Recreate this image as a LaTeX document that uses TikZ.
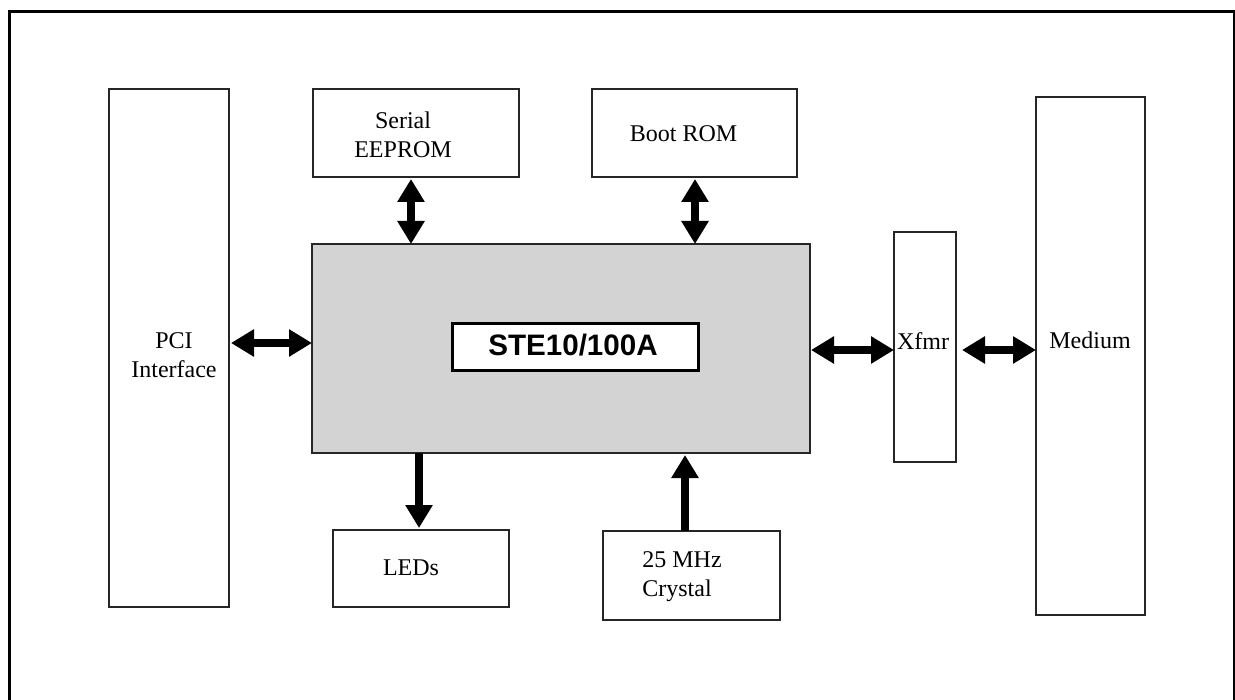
\documentclass[tikz,border=0pt]{standalone}
\usepackage{fontspec}
\setmainfont{Liberation Serif}
\newfontfamily\labelsans{Liberation Sans}
\usetikzlibrary{arrows.meta}
\definecolor{chipgray}{HTML}{D3D3D3}
\tikzset{
  box/.style={draw=black!85, line width=0.8pt, inner sep=0pt, outer sep=0pt, anchor=center},
  txt/.style={inner sep=0pt, align=center, font=\fontsize{12}{14.5}\selectfont},
  biarrow/.style={line width=3.6pt, {Triangle[width=13pt,length=11.5pt]}-{Triangle[width=13pt,length=11.5pt]}},
  onearrow/.style={line width=3.6pt, -{Triangle[width=13pt,length=11.5pt]}},
}
\begin{document}
\begin{tikzpicture}[x=0.5pt, y=-0.5pt]
\useasboundingbox (0,0) rectangle (1235,700);
\clip (0,0) rectangle (1235,700);
% outer frame
\draw[line width=1.5pt] (9,720) -- (9,12) -- (1234,12) -- (1234,720);

% boxes
\node[box, minimum width=60pt, minimum height=259pt] (pci) at (169,348) {};
\node[box, minimum width=103pt, minimum height=44pt] (eeprom) at (416,133) {};
\node[box, minimum width=102.5pt, minimum height=44pt] (boot) at (694.5,133) {};
\node[box, fill=chipgray, minimum width=249pt, minimum height=104.5pt] (main) at (561,348.5) {};
\node[box, fill=white, draw=black, line width=1.5pt, minimum width=123pt, minimum height=23.5pt] (chip) at (575,346.5) {};
\node[box, minimum width=31pt, minimum height=115pt] (xfmr) at (925,347) {};
\node[box, minimum width=54.5pt, minimum height=259pt] (medium) at (1090.5,356) {};
\node[box, minimum width=88pt, minimum height=38.5pt] (leds) at (421,568.5) {};
\node[box, minimum width=88.5pt, minimum height=44.5pt] (crystal) at (691.5,575.5) {};

% texts
\node[txt] (pcit) at (174,355) {PCI\\Interface};
\node[txt] (eepromt) at (403,135) {Serial\\EEPROM};
\node[txt] (boott) at (683.5,133.5) {Boot ROM};
\node[txt, anchor=base] (chipt) at (573,355) {\labelsans\fontsize{14.8}{17}\selectfont\bfseries STE10/100A};
\node[txt, anchor=base] (xfmrt) at (923,349) {Xfmr};
\node[txt, anchor=base] (mediumt) at (1090,348) {Medium};
\node[txt] (ledst) at (411,568) {LEDs};
\node[txt, align=left, anchor=west] (crystalt) at (642,577) {25 MHz\\Crystal};

% connectors
\draw[biarrow] (pci.east |- 0,343) ++(2,0) -- (main.west |- 0,343);
\draw[biarrow] (eeprom.south -| 411,0) ++(0,2) -- (main.north -| 411,0);
\draw[biarrow] (boot.south -| 695,0) ++(0,2) -- (main.north -| 695,0);
\draw[biarrow] (main.east |- 0,350) ++(1,0) -- (xfmr.west |- 0,350);
\draw[biarrow] (xfmr.east |- 0,350) ++(6,0) -- (medium.west |- 0,350);
\draw[onearrow] (main.south -| 419,0) -- ([yshift=1pt]leds.north -| 419,0);
\draw[onearrow] (crystal.north -| 685,0) -- ([yshift=-1pt]main.south -| 685,0);
\end{tikzpicture}
\end{document}
